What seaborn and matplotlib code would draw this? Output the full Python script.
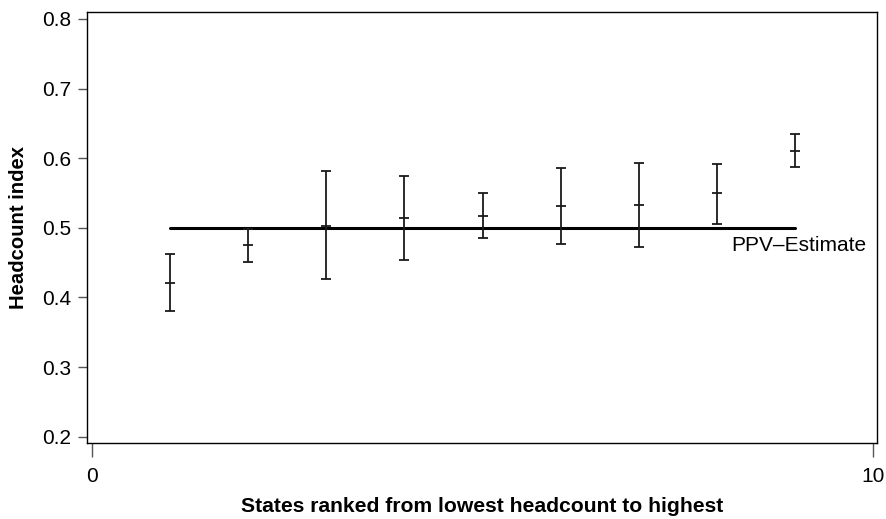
import matplotlib
matplotlib.use("Agg")
import matplotlib.pyplot as plt
import seaborn as sns
import pandas as pd

# State rank (lowest to highest headcount) with point estimate and interval bounds
rank = [1, 2, 3, 4, 5, 6, 7, 8, 9]
headcount = [0.421, 0.475, 0.503, 0.514, 0.517, 0.531, 0.533, 0.550, 0.611]
lower = [0.380, 0.451, 0.426, 0.454, 0.485, 0.477, 0.472, 0.506, 0.588]
upper = [0.463, 0.499, 0.582, 0.575, 0.550, 0.586, 0.593, 0.592, 0.635]
ppv_estimate = 0.5
ppv_label = "PPV\u2013Estimate"

x_ticks = [0, 10]
y_ticks = [0.2, 0.3, 0.4, 0.5, 0.6, 0.7, 0.8]

df = pd.DataFrame({"rank": rank, "headcount": headcount,
                   "lower": lower, "upper": upper})

sns.set_theme(style="white")
plt.rcParams["font.family"] = ["Liberation Sans", "DejaVu Sans"]
plt.rcParams["text.color"] = "black"
plt.rcParams["axes.labelcolor"] = "black"

fig = plt.figure(figsize=(8.87, 5.19), dpi=100)
ax = fig.add_axes([0.0984, 0.1464, 0.8903, 0.8311])

ink = "#1a1a1a"

# Confidence intervals with end caps
ax.errorbar(df["rank"], df["headcount"],
            yerr=[df["headcount"] - df["lower"], df["upper"] - df["headcount"]],
            fmt="none", ecolor=ink, elinewidth=1.3, capsize=3.4, capthick=1.3,
            zorder=3)
# Point estimates as short horizontal ticks
sns.scatterplot(data=df, x="rank", y="headcount", marker="_", s=50,
                color=ink, linewidth=1.3, ax=ax, zorder=4)

# Reference line for the PPV estimate
ref = pd.DataFrame({"rank": [rank[0], rank[-1]],
                    "value": [ppv_estimate, ppv_estimate]})
sns.lineplot(data=ref, x="rank", y="value", color="black", linewidth=2.2,
             ax=ax, zorder=2)
ax.text(rank[-1] + 0.05, ppv_estimate - 0.011, ppv_label, ha="center",
        va="top", fontsize=15, color="black")

ax.set_xlim(-0.06, 10.05)
ax.set_ylim(0.191, 0.8105)
ax.set_xticks(x_ticks)
ax.set_xticklabels([str(t) for t in x_ticks])
ax.set_yticks(y_ticks)
ax.set_yticklabels([f"{t:.1f}" for t in y_ticks])

for side in ["top", "right", "bottom", "left"]:
    ax.spines[side].set_visible(True)
    ax.spines[side].set_color("black")
    ax.spines[side].set_linewidth(1.0)

ax.tick_params(axis="x", direction="out", length=10, width=1.0,
               color="#555555", pad=7, labelsize=15, labelcolor="black",
               bottom=True)
ax.tick_params(axis="y", direction="out", length=6.5, width=1.0,
               color="#555555", pad=5, labelsize=15, labelcolor="black",
               left=True)

ax.set_xlabel("States ranked from lowest headcount to highest",
              fontsize=15.2, fontweight="bold", labelpad=8, color="black")
ax.set_ylabel("Headcount index", fontsize=14.6, fontweight="bold",
              labelpad=10, color="black")

fig.savefig("out.png", dpi=100)
